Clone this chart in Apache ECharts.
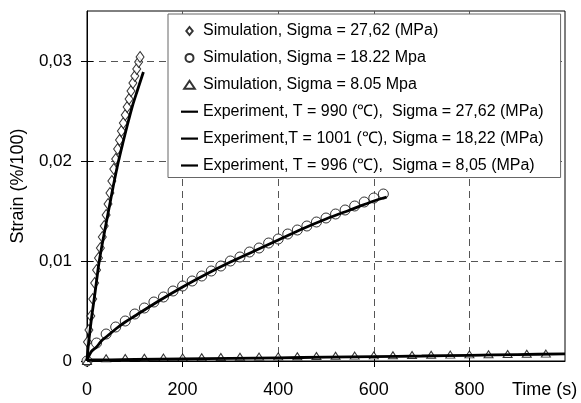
<!DOCTYPE html>
<html><head><meta charset="utf-8">
<script src="https://cdn.jsdelivr.net/npm/echarts@6/dist/echarts.min.js"></script>
<style>html,body{margin:0;padding:0;background:#fff}#c{width:581px;height:403px}</style>
</head><body><div id="c"></div>
<script>
// ---- data ----
const legendNames = [
  'Simulation, Sigma = 27,62 (MPa)',
  'Simulation, Sigma = 18.22 Mpa',
  'Simulation, Sigma = 8.05 Mpa',
  'Experiment, T = 990 (\u2103),  Sigma = 27,62 (MPa)',
  'Experiment,T = 1001 (\u2103), Sigma = 18,22 (MPa)',
  'Experiment, T = 996 (\u2103),  Sigma = 8,05 (MPa)'
];
const xTicks = [0, 200, 400, 600, 800];
const yTicks = [0, 0.01, 0.02, 0.03];

const sim1Time = [0,1,4,8,12,16,20,24,28,32,36,40,44,48,52,56,60,64,68,72,76,80,84,88,92,96,100,104,108,111];
const sim1Strain = [0,0.0019,0.0031,0.0045,0.0062,0.0078,0.0091,0.0103,0.0113,0.0124,0.0135,0.0146,0.0157,0.0168,0.0180,0.0192,0.0202,0.0212,0.0221,0.0230,0.0238,0.0246,0.0254,0.0262,0.0270,0.0278,0.0285,0.0292,0.0299,0.0304];

const sim2Time = [0,20,40,60,80,100,120,140,160,180,200,220,240,260,280,300,320,340,360,380,400,420,440,460,480,500,520,540,560,580,600,620];
const sim2Strain = [0,0.0018,0.0027,0.0034,0.0040,0.0047,0.0053,0.0059,0.0064,0.0070,0.0075,0.0080,0.0085,0.0090,0.0095,0.0100,0.0104,0.0109,0.0113,0.0118,0.0122,0.0127,0.0131,0.0135,0.0139,0.0143,0.0147,0.0151,0.0155,0.0159,0.0163,0.0167];

const sim3Time = [0,40,80,120,160,200,240,280,320,360,400,440,480,520,560,600,640,680,720,760,800,840,880,920,960];
const sim3Strain = [0,0.00028,0.0003,0.00032,0.00034,0.00036,0.00038,0.0004,0.00042,0.00044,0.00046,0.00048,0.0005,0.00052,0.00054,0.00056,0.00058,0.0006,0.00062,0.00064,0.00066,0.00068,0.0007,0.00072,0.00074];

const exp1Time = [0,2,5,10,15,20,25,35,45,55,65,75,85,95,105,118];
const exp1Strain = [0,0.0012,0.0025,0.0045,0.0062,0.0080,0.0098,0.0125,0.0150,0.0175,0.0198,0.0218,0.0237,0.0255,0.0270,0.0289];

const exp2Time = [0,2,5,10,20,30,40,60,80,100,150,200,250,300,350,400,450,500,550,600,627];
const exp2Strain = [0,0.0003,0.0006,0.0010,0.0014,0.0020,0.0024,0.0032,0.0039,0.0045,0.0060,0.0074,0.0087,0.0099,0.0110,0.0121,0.0132,0.0142,0.0151,0.0160,0.0164];

const exp3Time = [0,10,50,100,200,300,400,500,600,700,800,900,1000];
const exp3Strain = [0,0.0001,0.00012,0.00015,0.0002,0.00026,0.00032,0.00038,0.00044,0.0005,0.00057,0.00064,0.00072];

const pairs = (xs, ys) => xs.map((x, i) => [x, ys[i]]);
const FONT = 'Liberation Sans, Arial, sans-serif';
const hollow = {color: '#fff', borderColor: '#000', borderWidth: 1};
const ICON_DIAMOND = 'path://M4,0L8,5L4,10L0,5Z';
const ICON_CIRCLE = 'path://M5,0A5,5,0,1,1,5,10A5,5,0,1,1,5,0Z';
const ICON_TRIANGLE = 'path://M5,0L10,7.5L0,7.5Z';
const ICON_LINE = 'path://M0,0H17V2.2H0Z';

const gridLine = {show: true, lineStyle: {color: '#555', type: [7, 5], width: 1}};
const chart = echarts.init(document.getElementById('c'), null, {renderer: 'canvas'});
chart.setOption({
  animation: false,
  backgroundColor: '#fff',
  grid: {left: 87, right: 16, top: 11, bottom: 42, show: true, borderColor: '#000', borderWidth: 1, backgroundColor: '#fff'},
  xAxis: [{
    type: 'value', min: 0, max: 1000, interval: 200,
    name: 'Time (s)', nameLocation: 'end', nameGap: -53,
    nameTextStyle: {fontFamily: FONT, fontSize: 18, color: '#000', align: 'left', verticalAlign: 'top', padding: [20, 0, 0, 0]},
    axisLine: {lineStyle: {color: '#000', width: 1}},
    axisTick: {show: true, inside: false, length: 6, lineStyle: {color: '#000'}, customValues: xTicks},
    axisLabel: {fontFamily: FONT, fontSize: 18, color: '#000', margin: 20, customValues: xTicks},
    splitLine: gridLine
  }, {
    type: 'value', min: 0, max: 1000, interval: 200, position: 'bottom',
    axisLine: {show: false},
    axisTick: {show: true, inside: true, length: 6, lineStyle: {color: '#000'}, customValues: xTicks},
    axisLabel: {show: false}, splitLine: {show: false}
  }],
  yAxis: [{
    type: 'value', min: 0, max: 0.035, interval: 0.01,
    name: 'Strain (%/100)', nameLocation: 'middle', nameGap: 60,
    nameTextStyle: {fontFamily: FONT, fontSize: 18, color: '#000'},
    axisLine: {show: true, lineStyle: {color: '#000', width: 1}},
    axisTick: {show: true, inside: false, length: 6, lineStyle: {color: '#000'}, customValues: yTicks},
    axisLabel: {fontFamily: FONT, fontSize: 17, color: '#000', margin: 15, customValues: yTicks,
      formatter: v => v === 0 ? '0' : v.toFixed(2).replace('.', ',')},
    splitLine: gridLine
  }, {
    type: 'value', min: 0, max: 0.035, interval: 0.01, position: 'left',
    axisLine: {show: false},
    axisTick: {show: true, inside: true, length: 6, lineStyle: {color: '#000'}, customValues: yTicks},
    axisLabel: {show: false}, splitLine: {show: false}
  }],
  legend: {
    orient: 'vertical', left: 168, top: 14,
    backgroundColor: '#fff', borderColor: '#666', borderWidth: 1,
    padding: [8, 17, 3, 13],
    itemWidth: 17, itemHeight: 8, itemGap: 8.9, symbolKeepAspect: true,
    textStyle: {fontFamily: FONT, fontSize: 16, color: '#000', lineHeight: 18},
    data: [
      {name: legendNames[0], icon: ICON_DIAMOND},
      {name: legendNames[1], icon: ICON_CIRCLE},
      {name: legendNames[2], icon: ICON_TRIANGLE},
      {name: legendNames[3], icon: ICON_LINE},
      {name: legendNames[4], icon: ICON_LINE},
      {name: legendNames[5], icon: ICON_LINE}
    ]
  },
  series: [
    {name: legendNames[0], type: 'scatter', symbol: 'diamond', symbolSize: [8, 11], itemStyle: hollow, data: pairs(sim1Time, sim1Strain), z: 3},
    {name: legendNames[1], type: 'scatter', symbol: 'circle', symbolSize: 10, itemStyle: hollow, data: pairs(sim2Time, sim2Strain), z: 3},
    {name: legendNames[2], type: 'scatter', symbol: 'triangle', symbolSize: [9, 7], itemStyle: hollow, data: pairs(sim3Time, sim3Strain), z: 3},
    {name: legendNames[3], type: 'line', symbol: 'none', smooth: 0.3, lineStyle: {color: '#000', width: 2.8}, itemStyle: {color: '#000'}, data: pairs(exp1Time, exp1Strain), z: 4},
    {name: legendNames[4], type: 'line', symbol: 'none', smooth: 0.3, lineStyle: {color: '#000', width: 2.8}, itemStyle: {color: '#000'}, data: pairs(exp2Time, exp2Strain), z: 4},
    {name: legendNames[5], type: 'line', symbol: 'none', smooth: 0.3, lineStyle: {color: '#000', width: 2.8}, itemStyle: {color: '#000'}, data: pairs(exp3Time, exp3Strain), z: 4}
  ]
});
</script></body></html>
